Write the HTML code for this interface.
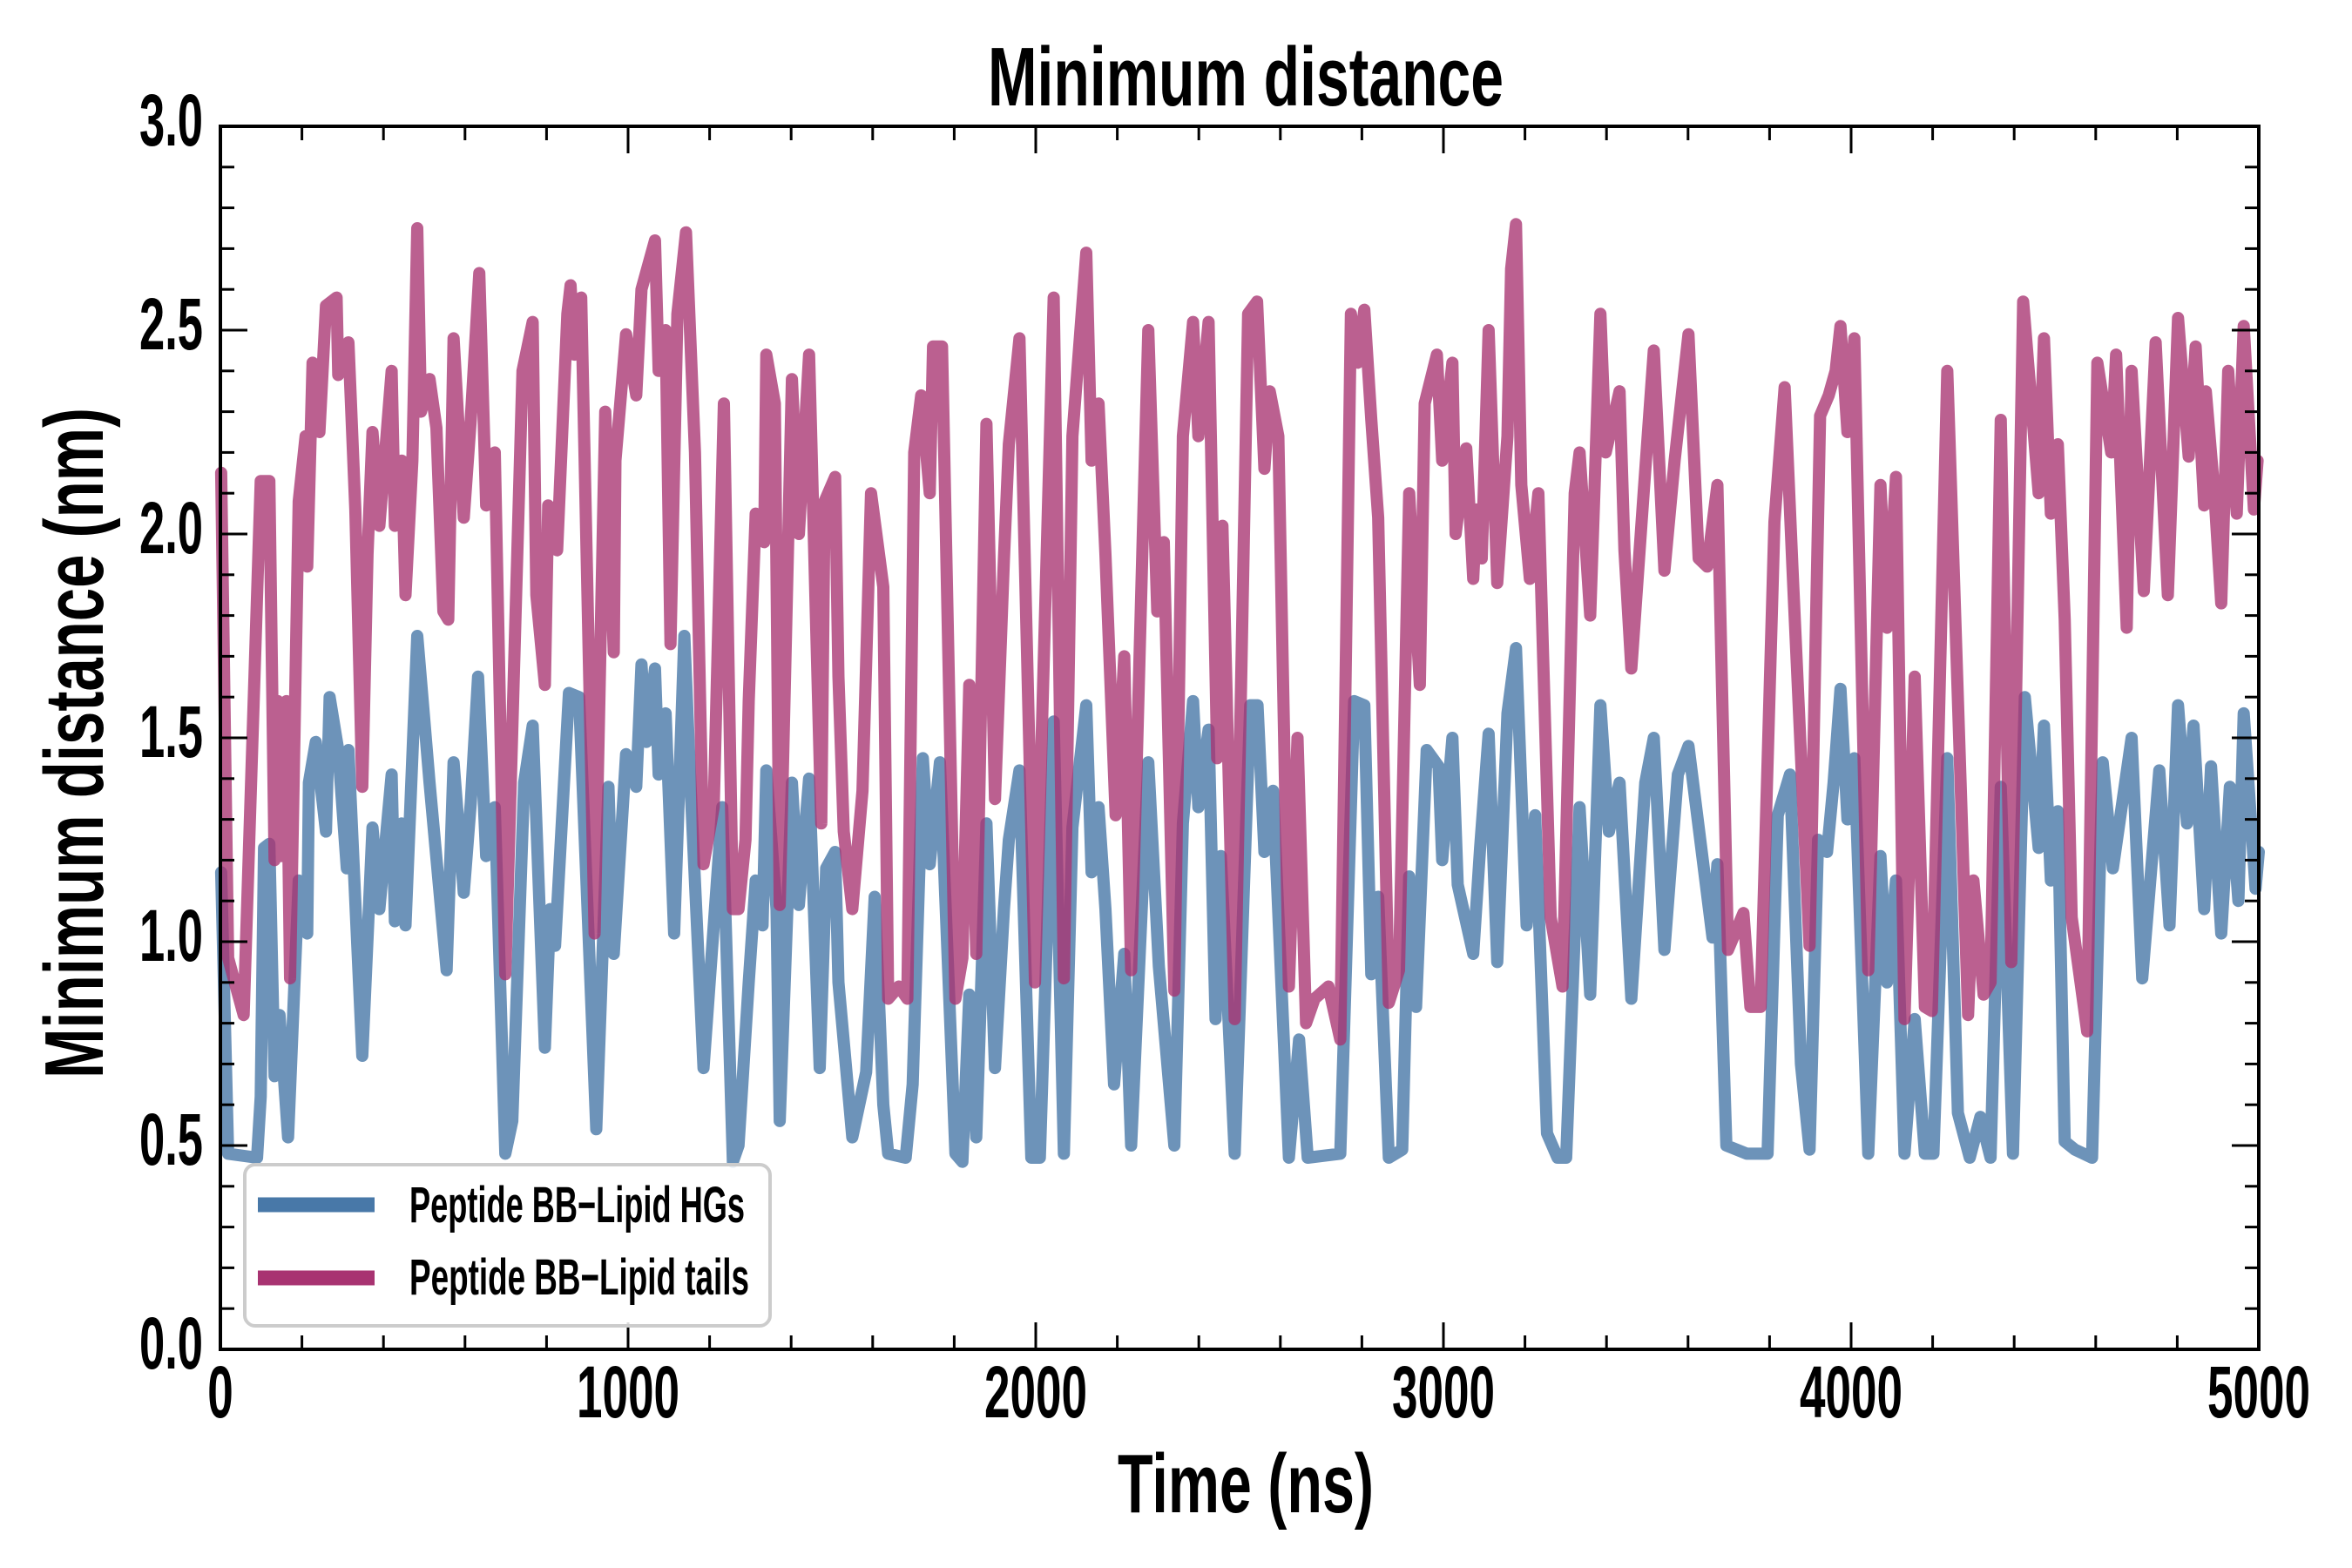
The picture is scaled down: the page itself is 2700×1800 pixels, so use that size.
<!DOCTYPE html>
<html><head><meta charset="utf-8"><style>
html,body{margin:0;padding:0;background:#fff;}
svg{display:block;}
text{font-family:"Liberation Sans Narrow","Liberation Sans",sans-serif;font-weight:bold;font-stretch:condensed;fill:#000;}
</style></head><body>
<svg id="chart" width="2700" height="1800" viewBox="0 0 2700 1800" xmlns="http://www.w3.org/2000/svg">
<rect width="2700" height="1800" fill="#fff"/>
<text x="1430" y="121" text-anchor="middle" font-size="96" textLength="592" lengthAdjust="spacingAndGlyphs">Minimum distance</text>
<text x="1430" y="1736" text-anchor="middle" font-size="96" textLength="294" lengthAdjust="spacingAndGlyphs">Time (ns)</text>
<text transform="translate(118,853) rotate(-90)" x="0" y="0" text-anchor="middle" font-size="96" textLength="770" lengthAdjust="spacingAndGlyphs">Minimum distance (nm)</text>
<g id="series"></g>
<g id="axes"></g>
<g>
<rect x="281" y="1337" width="603" height="185" rx="12" fill="#fff" fill-opacity="0.85" stroke="#cccccc" stroke-width="4"/>
<line x1="296" y1="1383" x2="430" y2="1383" stroke="#4878a8" stroke-width="17"/>
<text x="470" y="1403" font-size="58" textLength="385" lengthAdjust="spacingAndGlyphs">Peptide BB−Lipid HGs</text>
<line x1="296" y1="1467" x2="430" y2="1467" stroke="#a83371" stroke-width="17"/>
<text x="470" y="1486" font-size="58" textLength="390" lengthAdjust="spacingAndGlyphs">Peptide BB−Lipid tails</text>
</g>
</svg>
<script>
const tTails=[2,19,57,99,120,133,141,150,162,171,192,209,213,226,243,259,285,289,314,331,348,361,373,390,420,428,445,454,471,483,492,513,530,547,559,572,597,614,635,652,673,699,741,766,775,796,804,826,851,859,868,885,918,944,965,969,995,1020,1033,1066,1075,1092,1104,1121,1142,1164,1185,1210,1235,1257,1271,1288,1296,1313,1334,1339,1360,1372,1402,1419,1444,1474,1482,1508,1516,1529,1550,1575,1596,1626,1638,1664,1685,1702,1719,1740,1748,1770,1803,1820,1837,1854,1879,1900,1922,1934,1960,1998,2044,2069,2090,2124,2137,2154,2171,2196,2217,2234,2276,2298,2314,2340,2361,2386,2399,2424,2445,2458,2488,2521,2543,2561,2574,2595,2621,2642,2663,2684,2718,2747,2773,2790,2806,2823,2840,2866,2891,2916,2942,2954,2984,2997,3022,3030,3056,3073,3081,3094,3111,3132,3157,3166,3178,3191,3212,3233,3263,3292,3322,3334,3360,3385,3398,3432,3444,3461,3491,3516,3542,3567,3601,3626,3647,3672,3698,3736,3753,3778,3812,3837,3856,3898,3924,3945,3962,3974,3991,4008,4042,4072,4088,4110,4131,4156,4181,4198,4236,4287,4300,4325,4342,4367,4393,4422,4460,4473,4490,4507,4524,4541,4579,4604,4638,4650,4676,4688,4718,4747,4777,4802,4828,4845,4866,4870,4891,4908,4925,4946,4963,4988,4997];
const vTails=[2.15,0.96,0.82,2.13,2.13,1.20,1.59,1.21,1.59,0.91,2.08,2.24,1.92,2.42,2.25,2.56,2.58,2.39,2.47,2.06,1.38,1.95,2.25,2.02,2.40,2.02,2.18,1.85,2.18,2.75,2.30,2.38,2.26,1.81,1.79,2.48,2.04,2.28,2.64,2.07,2.20,0.92,2.40,2.52,1.85,1.63,2.07,1.96,2.54,2.61,2.44,2.58,1.02,2.30,1.71,2.18,2.49,2.34,2.60,2.72,2.40,2.50,1.73,2.54,2.74,2.20,1.19,1.33,2.32,1.08,1.08,1.25,1.59,2.05,1.98,2.44,2.32,1.09,2.38,2.00,2.44,1.29,2.08,2.14,1.65,1.27,1.08,1.37,2.10,1.87,0.86,0.89,0.86,2.20,2.34,2.10,2.46,2.46,0.86,0.96,1.63,0.97,2.27,1.35,1.94,2.22,2.48,0.90,2.58,0.91,2.24,2.69,2.18,2.32,1.95,1.31,1.70,0.93,2.50,1.81,1.98,0.88,2.24,2.52,2.24,2.52,1.45,2.02,0.81,2.54,2.57,2.16,2.35,2.24,0.89,1.50,0.80,0.86,0.89,0.76,2.54,2.42,2.55,2.28,2.04,0.85,0.93,2.10,1.63,2.32,2.44,2.18,2.42,2.00,2.21,1.89,2.06,1.94,2.50,1.88,2.24,2.65,2.76,2.12,1.89,2.10,1.06,0.89,2.10,2.20,1.80,2.54,2.20,2.35,1.96,1.67,2.10,2.45,1.91,2.18,2.49,1.94,1.92,2.12,0.98,1.07,0.84,0.84,2.03,2.36,1.92,0.99,2.29,2.34,2.40,2.51,2.25,2.48,0.93,2.12,1.77,2.14,0.81,1.65,0.84,0.83,2.40,0.82,1.15,0.87,0.90,2.28,0.95,2.57,2.10,2.48,2.05,2.22,1.79,1.06,0.78,2.42,2.20,2.44,1.77,2.40,1.86,2.47,1.85,2.53,2.19,2.46,2.07,2.35,2.10,1.83,2.40,2.05,2.51,2.06,2.18];
const tHG=[2,19,90,99,107,120,133,145,166,192,213,217,234,259,268,289,310,314,348,373,390,420,428,445,454,483,513,555,572,597,614,632,652,673,699,716,745,766,796,809,821,855,880,922,952,965,995,1020,1033,1045,1066,1075,1092,1113,1138,1151,1185,1231,1257,1271,1296,1313,1330,1339,1364,1372,1402,1419,1444,1470,1486,1508,1516,1550,1584,1605,1626,1638,1681,1698,1723,1740,1765,1803,1820,1837,1854,1879,1900,1922,1934,1960,1989,2010,2044,2069,2090,2124,2137,2154,2171,2192,2217,2234,2276,2302,2340,2361,2386,2399,2424,2441,2454,2488,2526,2544,2561,2582,2621,2646,2667,2747,2781,2806,2823,2840,2866,2899,2916,2933,2959,2988,2997,3022,3035,3073,3090,3111,3132,3157,3178,3204,3225,3254,3280,3301,3334,3360,3385,3406,3432,3461,3495,3516,3542,3575,3601,3660,3672,3694,3744,3795,3820,3850,3877,3898,3919,3941,3957,3974,3991,4008,4042,4072,4088,4110,4131,4156,4181,4202,4236,4262,4291,4317,4342,4367,4397,4426,4460,4473,4490,4507,4524,4549,4591,4617,4642,4688,4714,4756,4781,4802,4824,4840,4866,4883,4908,4929,4950,4963,4992,5000];
const vHG=[1.17,0.48,0.47,0.62,1.23,1.24,0.67,0.82,0.52,1.15,1.02,1.39,1.49,1.27,1.60,1.47,1.18,1.47,0.72,1.28,1.08,1.41,1.05,1.29,1.04,1.75,1.39,0.93,1.44,1.12,1.34,1.65,1.21,1.33,0.48,0.56,1.39,1.53,0.74,1.08,0.99,1.61,1.60,0.54,1.38,0.97,1.46,1.38,1.68,1.49,1.67,1.41,1.56,1.02,1.75,1.43,0.69,1.33,0.46,0.50,0.90,1.15,1.04,1.42,1.08,0.56,1.39,1.09,1.40,0.69,1.18,1.22,0.90,0.52,0.68,1.11,0.60,0.48,0.47,0.65,1.45,1.19,1.44,0.48,0.46,0.87,0.52,1.29,0.69,1.08,1.25,1.42,0.47,0.47,1.54,0.48,1.28,1.58,1.17,1.33,1.08,0.65,0.97,0.50,1.44,0.94,0.50,1.29,1.59,1.33,1.52,0.81,1.21,0.48,1.58,1.58,1.22,1.37,0.47,0.76,0.47,0.48,1.59,1.58,0.92,1.11,0.47,0.49,1.16,0.84,1.47,1.43,1.20,1.50,1.14,0.97,1.23,1.51,0.95,1.56,1.72,1.04,1.31,0.53,0.47,0.47,1.33,0.87,1.58,1.27,1.39,0.86,1.39,1.50,0.98,1.41,1.48,1.01,1.19,0.50,0.48,0.48,1.31,1.41,0.70,0.49,1.25,1.22,1.39,1.62,1.30,1.45,0.48,1.21,0.90,1.15,0.48,0.81,0.48,0.48,1.45,0.58,0.47,0.57,0.47,1.38,0.48,1.60,1.23,1.53,1.15,1.32,0.51,0.49,0.47,1.44,1.18,1.50,0.91,1.42,1.04,1.58,1.29,1.53,1.08,1.43,1.02,1.38,1.10,1.56,1.13,1.22];
const xTicks=[0,1000,2000,3000,4000,5000];
const xTickLabels=["0","1000","2000","3000","4000","5000"];
const yTicks=[0,0.5,1,1.5,2,2.5,3];
const yTickLabels=["0.0","0.5","1.0","1.5","2.0","2.5","3.0"];

const L=253,R=2593,T=145,B=1549,XMAX=5000,YMAX=3;
const NS="http://www.w3.org/2000/svg";
function xs(t){return L+(R-L)*t/XMAX;}
function ys(v){return B-(B-T)*v/YMAX;}
function mk(tag,attrs,parent){const e=document.createElementNS(NS,tag);for(const k in attrs)e.setAttribute(k,attrs[k]);parent.appendChild(e);return e;}
const sg=document.getElementById('series');
function drawLine(ts,vs,color,op,name){
  let d='';
  for(let i=0;i<ts.length;i++){d+=(i?'L':'M')+xs(ts[i]).toFixed(1)+' '+ys(vs[i]).toFixed(1);}
  const p=mk('path',{d:d,fill:'none',stroke:color,'stroke-opacity':op,'stroke-width':14,'stroke-linejoin':'round','stroke-linecap':'round'},sg);
  
  
}
drawLine(tHG,vHG,'#4878a8',0.8,'line-peptide-bb-lipid-hgs');
drawLine(tTails,vTails,'#a83371',0.78,'line-peptide-bb-lipid-tails');

const ag=document.getElementById('axes');
const frame=mk('rect',{x:L,y:T,width:R-L,height:B-T,fill:'none',stroke:'#000','stroke-width':4},ag);


for(let t=0;t<=XMAX;t+=200){
  const major=t%1000===0;const len=major?31:16;
  const a=mk('line',{x1:xs(t),x2:xs(t),y1:B,y2:B-len,stroke:'#000','stroke-width':3},ag);
  
  
  const b=mk('line',{x1:xs(t),x2:xs(t),y1:T,y2:T+len,stroke:'#000','stroke-width':3},ag);
  
  
}
for(let k=0;k<=30;k++){
  const v=k/10;const major=k%5===0;const len=major?31:16;
  const a=mk('line',{x1:L,x2:L+len,y1:ys(v),y2:ys(v),stroke:'#000','stroke-width':3},ag);
  
  
  const b=mk('line',{x1:R,x2:R-len,y1:ys(v),y2:ys(v),stroke:'#000','stroke-width':3},ag);
  
  
}
xTicks.forEach((t,i)=>{
  const s=xTickLabels[i];
  const e=mk('text',{x:xs(t),y:1627,'text-anchor':'middle','font-size':84,textLength:s.length*29.5,lengthAdjust:'spacingAndGlyphs'},ag);
  e.textContent=s;
  
  
});
yTicks.forEach((v,i)=>{
  const e=mk('text',{x:233,y:ys(v)+22,'text-anchor':'end','font-size':84,textLength:73,lengthAdjust:'spacingAndGlyphs'},ag);
  e.textContent=yTickLabels[i];
  
  
});
</script>
</body></html>
